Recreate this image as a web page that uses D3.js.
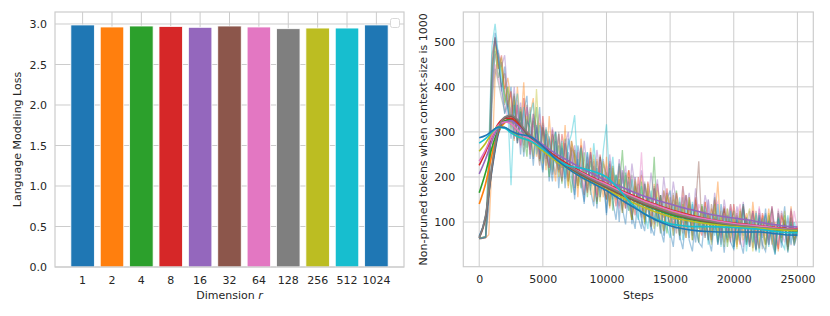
<!DOCTYPE html>
<html>
<head>
<meta charset="utf-8">
<script src="https://cdn.jsdelivr.net/npm/d3@7"></script>
<style>
body { margin: 0; background: #fff; }
text { font-family: "DejaVu Sans", sans-serif; fill: #262626; }
</style>
</head>
<body>
<div id="chart"></div>
<script>
// left panel: loss per dimension r
var dims = ["1", "2", "4", "8", "16", "32", "64", "128", "256", "512", "1024"];
var losses = [2.988, 2.963, 2.975, 2.970, 2.959, 2.975, 2.963, 2.942, 2.950, 2.950, 2.988];
var lossTicks = [0, 0.5, 1.0, 1.5, 2.0, 2.5, 3.0];

var colors = ["#1f77b4", "#ff7f0e", "#2ca02c", "#d62728", "#9467bd", "#8c564b",
              "#e377c2", "#7f7f7f", "#bcbd22", "#17becf", "#1f77b4"];

// right panel: non-pruned tokens over training steps
var stepTicks = [0, 5000, 10000, 15000, 20000, 25000];
var tokenTicks = [100, 200, 300, 400, 500];
var rawStep = 250; // raw logs every 250 steps
var raw = [
  [64,65,66,190,430,500,470,390,445,360, 400,285,360,250,345,380,240,330,275,355,
   215,310,190,280,300,175,270,195,285,250, 150,270,235,140,255,170,225,130,245,205,
   115,230,150,205,100,215,130,190,95,200, 110,85,185,150,75,175,100,160,70,150,
   170,70,145,60,130,160,65,140,85,55, 135,70,150,55,120,50,140,90,60,130,
   45,115,70,140,50,95,125,40,110,65, 130,50,100,38,120,70,135,45,95,55, 85],
  [63,64,65,72,230,420,475,440,395,420, 370,280,400,305,410,265,340,375,245,320,
   300,215,335,240,190,295,205,315,175,265, 250,155,285,210,180,265,145,240,200,155,
   245,130,205,150,230,125,190,215,105,180, 160,205,100,175,90,185,125,75,170,140,
   90,160,125,70,180,95,140,60,150,110, 80,145,60,130,100,190,70,125,55,140,
   100,45,130,80,120,55,145,75,40,115, 70,130,50,100,35,120,85,45,135,65, 90],
  [65,66,68,160,380,480,420,455,360,400, 335,385,280,355,300,245,340,275,355,235,
   310,270,200,295,230,270,185,285,230,165, 260,210,175,255,155,235,195,140,245,180,
   150,220,125,205,170,260,140,200,105,180, 135,190,95,170,125,245,90,160,120,75,
   155,105,170,70,140,90,150,60,125,85, 140,65,120,80,155,55,105,130,45,100,
   125,60,95,140,50,105,75,38,120,85, 50,100,130,42,90,65,115,35,95,60, 82],
  [64,65,67,210,450,510,440,470,390,355, 390,305,360,270,375,295,260,340,310,240,
   335,255,220,305,245,210,295,250,190,280, 245,180,270,210,165,255,205,160,250,180,
   150,235,190,135,225,165,130,215,175,115, 200,140,105,190,150,95,185,130,110,175,
   120,85,165,125,75,160,110,80,155,95, 70,145,105,60,150,95,65,135,90,55,
   140,85,50,130,95,48,125,80,42,120, 95,50,135,75,40,115,90,45,125,70, 88],
  [65,66,68,180,400,470,480,445,470,380, 330,400,305,365,285,355,265,340,300,250,
   315,270,225,310,250,295,220,270,300,210, 270,225,195,280,215,255,180,260,205,240,
   175,250,195,160,240,185,225,145,230,175, 150,215,165,130,210,150,195,115,200,140,
   120,190,140,105,180,130,165,95,175,115, 100,160,125,85,165,110,80,150,100,140,
   70,135,95,145,65,125,85,55,130,80, 120,60,135,80,50,125,95,58,130,75, 92],
  [63,64,66,240,470,510,450,400,430,350, 315,380,275,345,290,360,250,325,275,225,
   310,240,285,205,300,230,190,275,220,260, 175,255,200,160,245,185,235,145,225,170,
   210,135,220,160,195,120,205,150,105,190, 140,110,185,130,90,175,120,160,80,165,
   110,150,75,145,100,65,155,95,135,235, 80,125,60,140,80,115,50,130,75,110,
   45,120,80,135,55,105,42,125,70,110, 50,115,75,35,120,65,105,40,110,60, 82],
  [64,65,67,170,390,450,420,395,360,330, 355,285,370,265,330,355,250,315,275,340,
   235,305,255,215,290,235,200,280,225,265, 185,260,215,170,250,195,240,155,235,185,
   225,145,210,170,130,215,155,195,115,200, 145,255,125,180,105,170,125,90,165,115,
   155,80,145,105,160,70,135,95,55,140, 120,65,150,85,130,145,55,120,80,135,
   60,115,140,45,110,75,125,42,135,70, 105,50,120,38,130,75,55,110,48,125, 82],
  [63,64,66,130,360,440,410,375,345,370, 310,370,275,340,270,320,355,240,310,260,
   320,225,290,240,205,300,220,275,190,265, 235,180,265,200,170,250,185,235,155,230,
   205,145,225,165,135,210,155,125,205,140, 185,115,190,135,105,180,125,100,170,115,
   95,165,110,80,155,100,145,70,140,90, 135,75,120,60,140,80,125,55,130,75,
   110,50,125,70,110,45,120,65,105,40, 115,60,100,38,125,55,105,45,110,50, 84],
  [65,66,67,220,440,490,440,465,365,400, 305,370,285,350,255,335,285,245,395,270,
   230,305,245,215,295,200,275,225,180,280, 245,175,260,190,230,160,250,180,145,235,
   200,135,225,150,195,120,210,135,105,195, 125,175,100,185,110,85,170,115,80,160,
   135,70,150,85,140,65,155,80,125,55, 135,75,120,50,140,70,115,45,130,65,
   110,40,125,60,105,130,35,115,55,105, 40,120,65,32,110,55,125,38,100,50, 80],
  [64,65,68,260,490,540,470,420,380,350, 182,345,385,285,355,265,335,365,250,315,
   235,305,285,210,300,225,280,200,270,295, 337,210,265,195,255,180,275,205,170,260,
   317,185,245,160,230,145,210,125,195,135, 105,180,120,85,170,100,155,75,145,90,
   65,140,85,155,60,130,75,145,55,120, 80,135,50,120,70,140,45,115,65,125,
   40,110,60,130,35,105,55,120,32,100, 115,45,95,28,110,55,40,115,50,100, 76],
  [64,65,66,150,410,520,460,400,340,360, 285,360,275,345,245,325,310,225,315,255,
   210,295,240,190,280,215,265,175,255,200, 160,240,185,145,230,170,135,220,155,205,
   120,200,145,105,185,130,95,175,120,85, 165,105,80,155,90,70,145,85,55,135,
   80,45,125,70,40,115,60,35,110,55, 45,120,65,35,110,50,100,32,115,55,
   40,105,60,30,110,45,100,35,115,50, 35,103,55,28,107,43,95,32,100,47, 75]
];

var smoothSteps = [0, 500, 1000, 1500, 2000, 2500, 3000, 3500, 4000, 5000, 6000, 7000, 8000, 9000, 10000,
                   11000, 12000, 13000, 14000, 15000, 16000, 17000, 18000, 19000, 20000, 21000, 22000, 23000, 24000, 25000];
var smooth = [
  [68,112,215,295,322,326,318,302,290,264,242,222,206,192,178,164,150,138,127,117,110,104,99,95,92,89,87,84,82,80],
  [140,185,250,300,320,327,322,305,290,265,243,226,210,195,182,168,155,143,133,123,115,108,103,98,95,92,89,87,85,84],
  [165,210,265,305,325,328,318,302,288,262,240,222,205,190,178,163,150,138,127,117,110,104,99,95,92,89,86,84,82,81],
  [226,255,290,318,330,330,320,305,292,268,246,228,212,198,185,172,160,148,138,128,120,113,107,102,98,95,92,89,86,85],
  [207,240,280,310,322,325,315,302,292,272,252,236,220,206,192,180,168,157,148,140,132,125,118,113,109,105,100,95,91,89],
  [65,110,220,300,330,335,325,305,290,262,240,222,205,190,176,162,150,139,129,120,112,106,101,97,93,90,87,85,83,82],
  [235,260,292,315,322,318,305,292,284,262,242,225,210,196,184,170,158,146,136,126,118,111,106,101,97,94,91,88,85,84],
  [65,115,225,305,333,337,328,308,292,265,243,225,208,193,180,166,154,142,132,122,114,108,103,98,94,91,88,86,84,83],
  [257,275,298,312,310,300,290,285,280,258,236,218,200,186,172,158,144,132,121,112,105,100,96,93,90,88,86,84,82,81],
  [275,285,300,310,308,298,290,285,280,262,240,225,220,212,200,172,140,118,105,96,92,90,90,89,88,86,84,80,77,76],
  [287,292,302,311,310,302,296,293,290,268,240,218,200,185,170,152,135,118,103,92,85,81,79,78,78,78,78,75,72,71]
];

var W = 830, H = 316;
var svg = d3.select("#chart").append("svg")
  .attr("width", W)
  .attr("height", H);

var gridColor = "#cccccc";

// ---------- left: bars ----------
var L = {left: 55, right: 404, top: 12, bottom: 267};

var xb = d3.scaleBand()
  .domain(dims)
  .range([L.left, L.right])
  .paddingInner(0.2)
  .paddingOuter(0.54);

var yb = d3.scaleLinear()
  .domain([0, 3.148])
  .range([L.bottom, L.top]);

var gl = svg.append("g");

// grid
gl.selectAll(".hgrid").data(lossTicks).enter().append("line")
  .attr("x1", L.left).attr("x2", L.right)
  .attr("y1", function(d) { return yb(d); })
  .attr("y2", function(d) { return yb(d); })
  .attr("stroke", gridColor).attr("stroke-width", 1);
gl.selectAll(".vgrid").data(dims).enter().append("line")
  .attr("x1", function(d) { return xb(d) + xb.bandwidth() / 2; })
  .attr("x2", function(d) { return xb(d) + xb.bandwidth() / 2; })
  .attr("y1", L.top).attr("y2", L.bottom)
  .attr("stroke", gridColor).attr("stroke-width", 1);

gl.selectAll(".bar").data(losses).enter().append("rect")
  .attr("x", function(d, i) { return xb(dims[i]); })
  .attr("y", function(d) { return yb(d); })
  .attr("width", xb.bandwidth())
  .attr("height", function(d) { return yb(0) - yb(d); })
  .attr("fill", function(d, i) { return colors[i]; })
  .attr("stroke", "#fff")
  .attr("stroke-width", 0.8);

gl.append("rect")
  .attr("x", L.left).attr("y", L.top)
  .attr("width", L.right - L.left).attr("height", L.bottom - L.top)
  .attr("fill", "none").attr("stroke", gridColor).attr("stroke-width", 1.2);

// empty legend box
gl.append("rect")
  .attr("x", 390.5).attr("y", 18.5).attr("width", 9).attr("height", 9).attr("rx", 2)
  .attr("fill", "#fff").attr("stroke", "#d8d8d8").attr("stroke-width", 1);

var axL = gl.append("g")
  .attr("transform", "translate(" + L.left + ",0)")
  .call(d3.axisLeft(yb).tickValues(lossTicks).tickFormat(d3.format(".1f")).tickSize(0).tickPadding(8));
var axB = gl.append("g")
  .attr("transform", "translate(0," + L.bottom + ")")
  .call(d3.axisBottom(xb).tickSize(0).tickPadding(9));
[axL, axB].forEach(function(a) {
  a.select(".domain").remove();
  a.selectAll("text").attr("font-size", "11px").attr("font-family", "DejaVu Sans").style("fill", "#262626");
});

gl.append("text")
  .attr("x", (L.left + L.right) / 2).attr("y", 299)
  .attr("text-anchor", "middle").attr("font-size", "11px")
  .html('Dimension <tspan font-style="italic">r</tspan>');
gl.append("text")
  .attr("transform", "translate(21," + (L.top + L.bottom) / 2 + ") rotate(-90)")
  .attr("text-anchor", "middle").attr("font-size", "11px")
  .text("Language Modeling Loss");

// ---------- right: token curves ----------
var R = {left: 463.3, right: 813.3, top: 12, bottom: 266.7};

var xs = d3.scaleLinear().domain([-1250, 26250]).range([R.left, R.right]);
var ys = d3.scaleLinear().domain([1, 566]).range([R.bottom, R.top]);

var gr = svg.append("g");

gr.selectAll(".hgrid").data(tokenTicks).enter().append("line")
  .attr("x1", R.left).attr("x2", R.right)
  .attr("y1", function(d) { return ys(d); })
  .attr("y2", function(d) { return ys(d); })
  .attr("stroke", gridColor).attr("stroke-width", 1);
gr.selectAll(".vgrid").data(stepTicks).enter().append("line")
  .attr("x1", function(d) { return xs(d); })
  .attr("x2", function(d) { return xs(d); })
  .attr("y1", R.top).attr("y2", R.bottom)
  .attr("stroke", gridColor).attr("stroke-width", 1);

var rawLine = d3.line()
  .x(function(d, i) { return xs(i * rawStep); })
  .y(function(d) { return ys(d); });

gr.selectAll(".raw").data(raw).enter().append("path")
  .attr("d", rawLine)
  .attr("fill", "none")
  .attr("stroke", function(d, i) { return colors[i]; })
  .attr("stroke-width", 1.3)
  .attr("stroke-opacity", 0.42);

var smoothLine = d3.line()
  .x(function(d, i) { return xs(smoothSteps[i]); })
  .y(function(d) { return ys(d); })
  .curve(d3.curveMonotoneX);

gr.selectAll(".smooth").data(smooth).enter().append("path")
  .attr("d", smoothLine)
  .attr("fill", "none")
  .attr("stroke", function(d, i) { return colors[i]; })
  .attr("stroke-width", 1.6);

gr.append("rect")
  .attr("x", R.left).attr("y", R.top)
  .attr("width", R.right - R.left).attr("height", R.bottom - R.top)
  .attr("fill", "none").attr("stroke", gridColor).attr("stroke-width", 1.2);

var axL2 = gr.append("g")
  .attr("transform", "translate(" + R.left + ",0)")
  .call(d3.axisLeft(ys).tickValues(tokenTicks).tickSize(0).tickPadding(8));
var axB2 = gr.append("g")
  .attr("transform", "translate(0," + R.bottom + ")")
  .call(d3.axisBottom(xs).tickValues(stepTicks).tickFormat(d3.format("d")).tickSize(0).tickPadding(9));
[axL2, axB2].forEach(function(a) {
  a.select(".domain").remove();
  a.selectAll("text").attr("font-size", "11px").attr("font-family", "DejaVu Sans").style("fill", "#262626");
});

gr.append("text")
  .attr("x", (R.left + R.right) / 2).attr("y", 299)
  .attr("text-anchor", "middle").attr("font-size", "11px")
  .text("Steps");
gr.append("text")
  .attr("transform", "translate(427," + (R.top + R.bottom) / 2 + ") rotate(-90)")
  .attr("text-anchor", "middle").attr("font-size", "11px")
  .text("Non-pruned tokens when context-size is 1000");
</script>
</body>
</html>
